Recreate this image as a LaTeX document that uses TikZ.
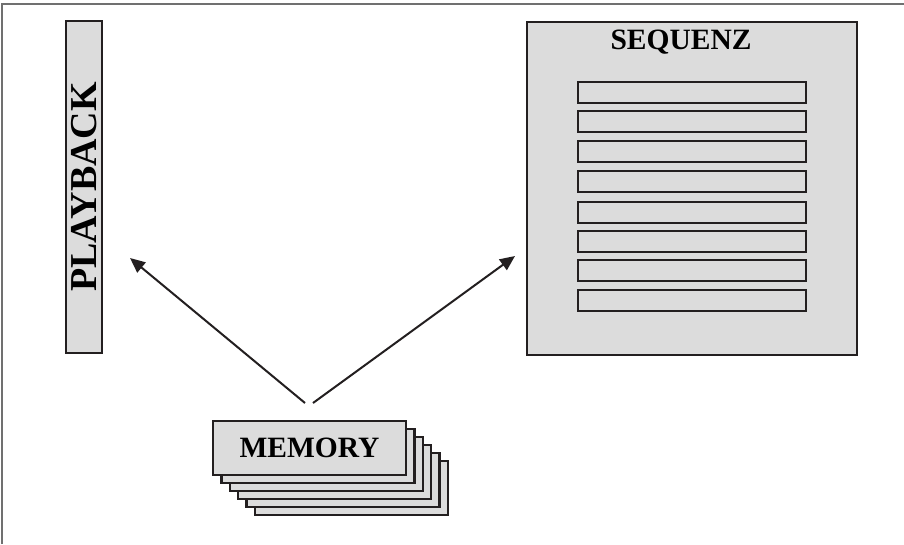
\documentclass[tikz,border=0pt]{standalone}
\usepackage{fontspec}
\setmainfont{Liberation Serif}
\usetikzlibrary{arrows.meta}
\definecolor{boxfill}{HTML}{DCDCDC}
\definecolor{boxline}{HTML}{231F20}
\definecolor{framegray}{HTML}{707070}
\tikzset{
  panel/.style={draw=boxline, line width=2.4pt, fill=boxfill, inner sep=0pt},
  slot/.style={panel, minimum width=228pt, minimum height=21pt},
  card/.style={panel, minimum width=193pt, minimum height=54pt},
  lbl/.style={font=\bfseries\fontsize{29.5}{31}\selectfont, inner sep=0pt},
  flow/.style={draw=boxline, line width=2pt, -{Triangle[length=15pt,width=13pt]}}
}
\begin{document}
\begin{tikzpicture}[x=1pt,y=-1pt]
\useasboundingbox (0,0) rectangle (904,544);
\draw[framegray, line width=1.2pt] (2,544) -- (2,4) -- (904,4);
% playback
\node[panel, rotate=90, minimum width=332pt, minimum height=36pt,
      font=\bfseries\fontsize{38}{40}\selectfont] (play) at (84,187) {PLAYBACK};
% sequenz
\node[panel, minimum width=330pt, minimum height=333pt] (seq) at (692,188.5) {};
\node[lbl] (seqt) at (681,42) {SEQUENZ};
\foreach \t [count=\i] in {82,111,141,171,202,231,260,290}
  \node[slot] (s\i) at (692,\t+10.5) {};
% memory stack
\foreach \k in {5,4,3,2,1}
  \node[card] (m\k) at (309.5+8.4*\k,448+8*\k) {};
\node[card] (mem) at (309.5,448) {};
\node[lbl] (memt) at (mem) {MEMORY};
% arrows
\coordinate (sl) at (305,403);
\coordinate (sr) at (313,403);
\coordinate (tl) at (130,258);
\coordinate (tr) at (515,256);
\draw[flow] (sl) -- (tl);
\draw[flow] (sr) -- (tr);
\end{tikzpicture}
\end{document}
